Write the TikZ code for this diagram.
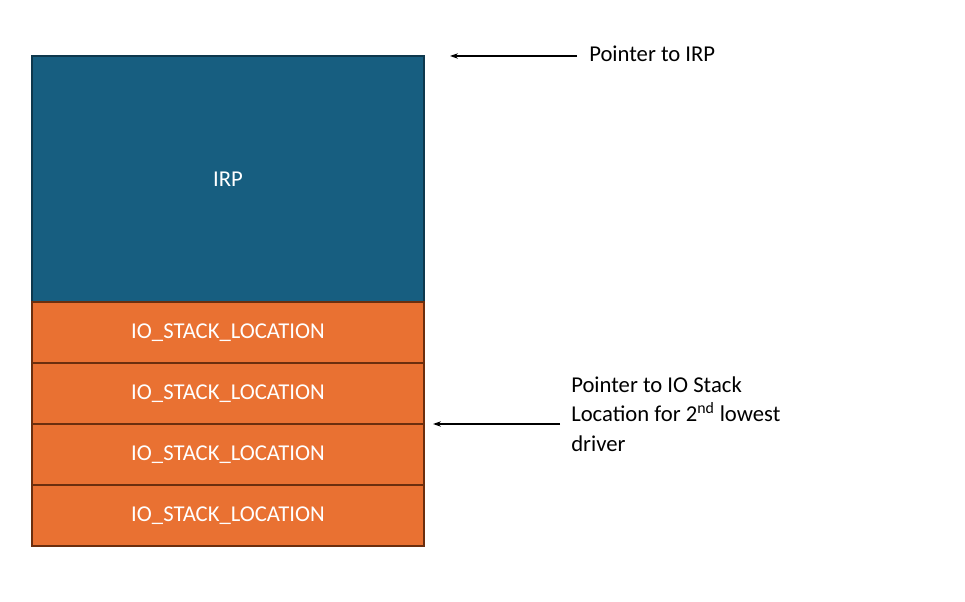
\documentclass[tikz,border=0pt]{standalone}
\usepackage{fontspec}
\setmainfont{Carlito}
\usetikzlibrary{arrows.meta}
\definecolor{irpblue}{HTML}{175E80}
\definecolor{stackor}{HTML}{E97132}
\definecolor{stackedge}{HTML}{6B2E0E}
\begin{document}
\begin{tikzpicture}[x=0.75pt,y=-0.75pt,
  box/.style={draw=stackedge,line width=0.8pt,minimum width=392*0.75pt,inner sep=0pt,text=white,font=\fontsize{17}{20}\selectfont},
  stk/.style={box,fill=stackor,minimum height=61*0.75pt},
  lbl/.style={font=\fontsize{17}{22}\selectfont,anchor=west,align=left,inner sep=0pt},
  arr/.style={-{Stealth[length=6pt,width=4pt]},line width=0.8pt}]
\useasboundingbox (0,0) rectangle (965,602);
\node[box,fill=irpblue,draw=irpblue!60!black,minimum height=246*0.75pt] (irp) at (228,179) {IRP};
\node[stk] (s1) at (228,332.5) {IO\_STACK\_LOCATION};
\node[stk] (s2) at (228,393.5) {IO\_STACK\_LOCATION};
\node[stk] (s3) at (228,454.5) {IO\_STACK\_LOCATION};
\node[stk] (s4) at (228,515.5) {IO\_STACK\_LOCATION};
\node[lbl] (l1) at (589,54) {Pointer to IRP};
\node[lbl] (l2) at (571,414) {Pointer to IO Stack\\Location for 2\textsuperscript{nd} lowest\\driver};
\coordinate (t1) at (450,56);
\coordinate (t2) at (433,424);
\draw[arr] (l1.west |- t1) ++(-12,0) -- (t1);
\draw[arr] (l2.west |- t2) ++(-11,0) -- (t2);
\end{tikzpicture}
\end{document}
